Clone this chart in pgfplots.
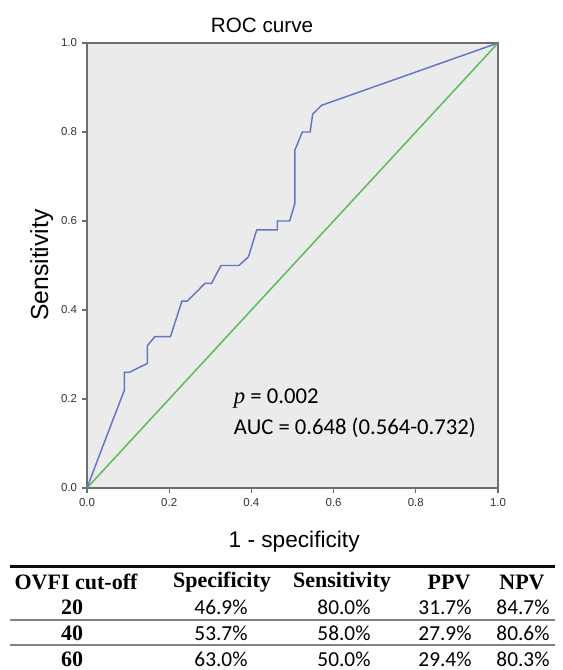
\documentclass[border=0pt]{standalone}
\usepackage{fontspec}
\setmainfont{Liberation Sans}
\newfontfamily\serif{Liberation Serif}
\newfontfamily\calib{Carlito}
\usepackage{pgfplots}
\pgfplotsset{compat=1.18}

\definecolor{roc}{RGB}{98,118,200}
\definecolor{ref}{RGB}{84,190,84}
\definecolor{panel}{RGB}{235,235,235}
\definecolor{frame}{RGB}{110,110,110}
\definecolor{rowline}{RGB}{130,130,130}
\definecolor{toprule}{RGB}{10,10,10}

\begin{document}
\begin{tikzpicture}
% page frame 562 x 670 px (1 px = 0.75pt)
\path (0pt,0pt) rectangle (421.5pt,502.5pt);

% table below the chart
\begin{scope}[x=0.75pt, y=0.75pt]
\fill[toprule] (10,101.5) rectangle (555,104.5);
\draw[rowline, line width=1pt] (10,50) -- (555,50);
\draw[rowline, line width=1pt] (10,25) -- (555,25);
\begin{scope}[every node/.style={inner sep=0pt, anchor=center}]
\foreach \x/\t in {76/OVFI cut-off, 222/Specificity, 342/Sensitivity, 449/PPV, 522/NPV}
    \node[font=\serif\bfseries\fontsize{16.5}{18}\selectfont] at (\x,88) {\t};
\foreach \y/\c/\a/\b/\p/\n in {63/20/46.9/80.0/31.7/84.7, 37/40/53.7/58.0/27.9/80.6, 11/60/63.0/50.0/29.4/80.3} {
    \node[font=\serif\bfseries\fontsize{16.5}{18}\selectfont] at (72,\y) {\c};
    \node[font=\calib\fontsize{16}{18}\selectfont] at (221,\y) {\a\%};
    \node[font=\calib\fontsize{16}{18}\selectfont] at (344,\y) {\b\%};
    \node[font=\calib\fontsize{16}{18}\selectfont] at (445,\y) {\p\%};
    \node[font=\calib\fontsize{16}{18}\selectfont] at (523,\y) {\n\%};
}
\end{scope}
\end{scope}

\begin{axis}[
    at={(65.25pt,136.5pt)}, anchor=south west,
    scale only axis,
    width=308.25pt, height=333.75pt,
    xmin=0, xmax=1, ymin=0, ymax=1,
    xtick={0,0.2,...,1.0}, ytick={0,0.2,...,1.0},
    xticklabel style={/pgf/number format/.cd,fixed,fixed zerofill,precision=1},
    yticklabel style={/pgf/number format/.cd,fixed,fixed zerofill,precision=1},
    /pgf/number format/assume math mode=true,
    tick label style={font=\fontsize{8.6}{10}\selectfont, color=black!80},
    tick align=outside, tick pos=left,
    major tick length=4pt,
    axis line style={frame, line width=1.1pt},
    every tick/.style={frame, line width=0.8pt},
    axis background/.style={fill=panel},
    title={ROC curve},
    title style={at={(rel axis cs:0.426,1.022)}, anchor=center, font=\fontsize{15.5}{17}\selectfont},
    xlabel={1 - specificity},
    xlabel style={at={(rel axis cs:0.504,-0.12)}, anchor=center, font=\fontsize{17}{19}\selectfont},
    ylabel={Sensitivity},
    ylabel style={at={(rel axis cs:-0.11,0.501)}, anchor=center, rotate=0, font=\fontsize{18.5}{20}\selectfont},
    clip=false,
]
% reference diagonal
\addplot[ref, line width=1.1pt] coordinates {(0,0) (1,1)};
% ROC curve
\addplot[roc, line width=1.1pt] coordinates {
    (0,0) (0.041,0.10) (0.091,0.22) (0.091,0.26) (0.103,0.26)
    (0.147,0.28) (0.147,0.32) (0.165,0.34) (0.203,0.34) (0.231,0.42)
    (0.244,0.42) (0.287,0.46) (0.303,0.46) (0.326,0.50) (0.370,0.50)
    (0.393,0.52) (0.413,0.58) (0.463,0.58) (0.463,0.60) (0.493,0.60)
    (0.506,0.64) (0.506,0.76) (0.524,0.80) (0.543,0.80) (0.549,0.84)
    (0.571,0.86) (1,1)
};
\node[anchor=west, inner sep=0pt, font=\calib\fontsize{17}{19}\selectfont] at (axis cs:0.357,0.20) {{\serif\itshape p} = 0.002};
\node[anchor=west, inner sep=0pt, font=\calib\fontsize{17}{19}\selectfont] at (axis cs:0.357,0.135) {AUC = 0.648 (0.564-0.732)};
\end{axis}
\end{tikzpicture}
\end{document}
